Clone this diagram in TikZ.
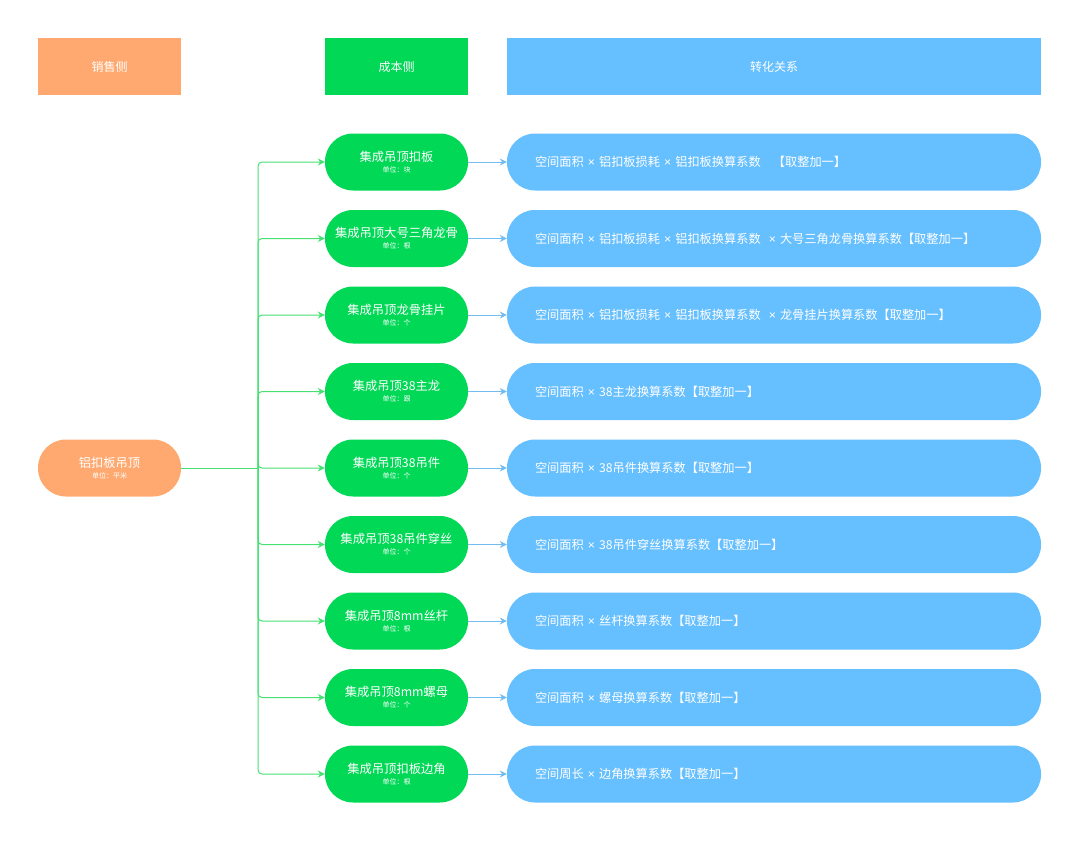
\documentclass[tikz,border=0pt]{standalone}
\usepackage{fontspec}
\setmainfont{Noto Sans CJK SC}
\newfontfamily\mulfont{Liberation Sans}
\newcommand{\mul}{{\mulfont ×}}
\usetikzlibrary{arrows.meta}
\definecolor{salesorange}{RGB}{255,169,112}
\definecolor{costgreen}{RGB}{0,216,86}
\definecolor{linegreen}{RGB}{70,224,115}
\definecolor{convblue}{RGB}{102,191,255}
\definecolor{arrowblue}{RGB}{115,188,242}

\begin{document}
\begin{tikzpicture}[x=1pt,y=-1pt,
		header/.style={fill=#1, minimum width=143pt, minimum height=57pt, inner sep=0pt, text=white, font=\fontsize{12}{14}\selectfont},
		pill/.style={fill=#1, rounded corners=28pt, minimum width=143pt, minimum height=57pt, inner sep=0pt, text=white, align=center, font=\fontsize{12.3}{14}\selectfont},
		convpill/.style={fill=convblue, rounded corners=28pt, minimum height=57pt, text width=478pt, inner xsep=28pt, inner ysep=0pt, text=white, align=left, font=\fontsize{12.2}{14}\selectfont},
		branch/.style={linegreen, line width=1pt, rounded corners=4pt, -{Stealth[length=7pt,width=7pt]}},
		link/.style={arrowblue, line width=1pt, -{Stealth[length=7pt,width=7pt]}}]
		\useasboundingbox (0,0) rectangle (1080,841);
		% headers
		\node[header=salesorange] (salesHead) at (109.5,66.5) {销售侧};
		\node[header=costgreen] (costHead) at (396.5,66.5) {成本侧};
		\node[header=convblue, minimum width=534pt] (convHead) at (774,66.5) {转化关系};
		% sales side
		\node[pill=salesorange] (sales) at (109.5,468) {铝扣板吊顶\\[-3pt]{\fontsize{7}{8}\selectfont 单位：平米}};
		\coordinate (trunk) at (258,468);
		\draw[linegreen, line width=1pt] (sales.east) -- (trunk);
		% cost side and conversion
		\foreach \costname/\costunit/\convtext [count=\i] in {
			集成吊顶扣板/块/{空间面积 \mul{} 铝扣板损耗 \mul{} 铝扣板换算系数 \ \ 【取整加一】},
			集成吊顶大号三角龙骨/根/{空间面积 \mul{} 铝扣板损耗 \mul{} 铝扣板换算系数 \ \mul{} 大号三角龙骨换算系数【取整加一】},
			集成吊顶龙骨挂片/个/{空间面积 \mul{} 铝扣板损耗 \mul{} 铝扣板换算系数 \ \mul{} 龙骨挂片换算系数【取整加一】},
			集成吊顶38主龙/跟/{空间面积 \mul{} 38主龙换算系数【取整加一】},
			集成吊顶38吊件/个/{空间面积 \mul{} 38吊件换算系数【取整加一】},
			集成吊顶38吊件穿丝/个/{空间面积 \mul{} 38吊件穿丝换算系数【取整加一】},
			集成吊顶8mm丝杆/根/{空间面积 \mul{} 丝杆换算系数【取整加一】},
			集成吊顶8mm螺母/个/{空间面积 \mul{} 螺母换算系数【取整加一】},
			集成吊顶扣板边角/根/{空间周长 \mul{} 边角换算系数【取整加一】}}
		{
			\node[pill=costgreen] (cost\i) at (396.5,{162+(\i-1)*76.5}) {\costname\\[-3pt]{\fontsize{7}{8}\selectfont 单位：\costunit}};
			\node[convpill] (conv\i) at (774,{162+(\i-1)*76.5}) {\convtext};
			\draw[branch] (trunk) |- (cost\i.west);
			\draw[link] (cost\i.east) -- (conv\i.west);
		}
	\end{tikzpicture}
\end{document}
